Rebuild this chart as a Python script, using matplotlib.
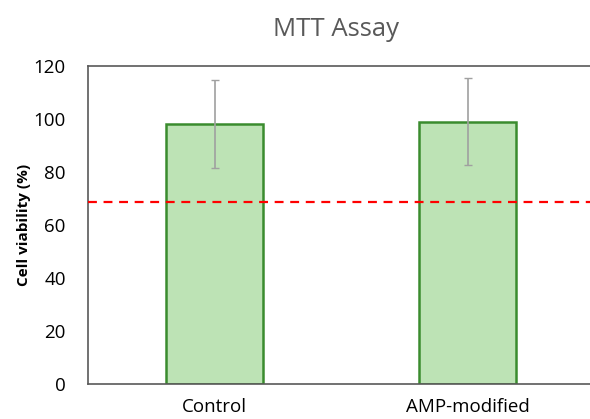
import matplotlib
matplotlib.use("Agg")
import matplotlib.pyplot as plt

categories = ["Control", "AMP-modified"]
viability = [98.1, 99.0]
errors = [16.7, 16.3]
threshold = 68.5
yticks = [0, 20, 40, 60, 80, 100, 120]

plt.rcParams['font.family'] = ['Open Sans', 'DejaVu Sans']

fig = plt.figure(figsize=(5.9, 4.19), dpi=100)
ax = fig.add_axes([88/590, 35/419, (594-88)/590, (384-66)/419])

x = list(range(len(categories)))
ax.bar(x, viability, width=0.38, color="#BDE3B5", edgecolor="#3A8C2E", linewidth=1.8, zorder=2)
ax.errorbar(x, viability, yerr=errors, fmt="none", ecolor="#A0A0A0", elinewidth=1.2,
            capsize=3, capthick=1.0, zorder=3)
ax.axhline(threshold, color="#FF0000", linestyle=(0, (4, 3)), linewidth=1.6, zorder=4)

ax.set_xlim(-0.5, 1.5)
ax.set_ylim(0, 120)
ax.set_yticks(yticks)
ax.set_xticks(x)
ax.set_xticklabels(categories)
ax.tick_params(axis="both", length=0, labelsize=13.5, colors="black")
ax.tick_params(axis="y", pad=16)
ax.tick_params(axis="x", pad=10)

for s in ["left", "top", "bottom"]:
    ax.spines[s].set_color("#595959")
    ax.spines[s].set_linewidth(1.2)
ax.spines["right"].set_visible(False)

ax.set_ylabel("Cell viability (%)", fontsize=11, fontweight="bold", labelpad=2)
fig.text(336/590, 1 - 30/419, "MTT Assay", ha="center", va="center", fontsize=18.5, color="#595959")

fig.savefig("out.png", dpi=100)
